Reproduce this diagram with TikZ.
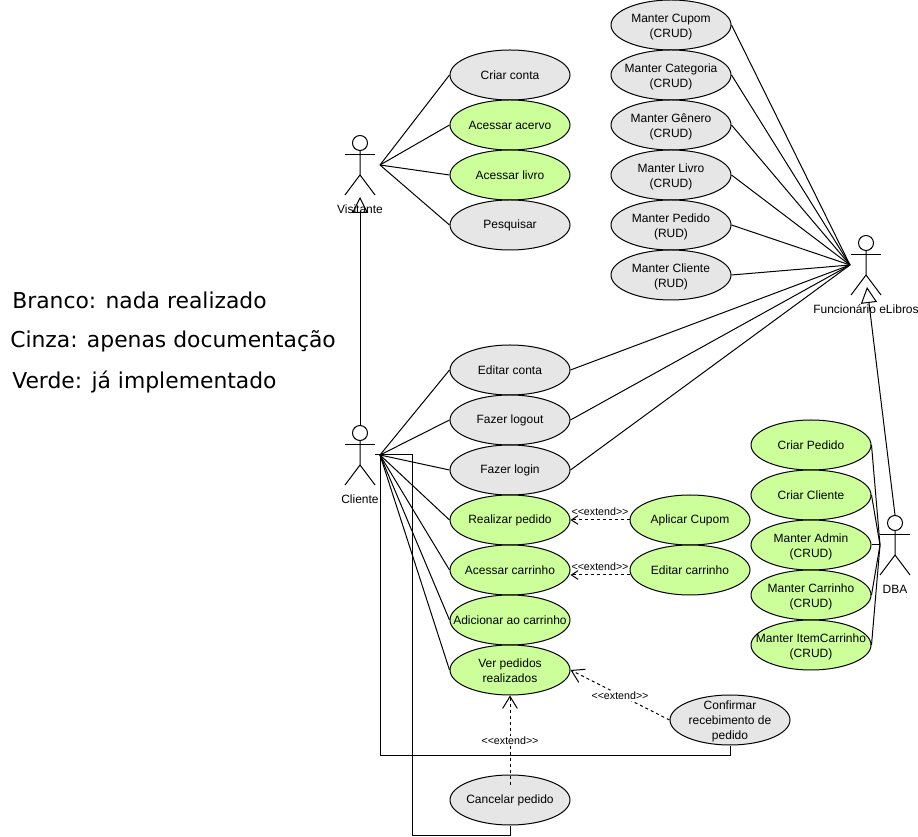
\documentclass[tikz,border=0pt]{standalone}
\usepackage{fontspec}
\setmainfont{Liberation Sans}
\newfontfamily\legendfont{DejaVu Sans}
\usetikzlibrary{shapes.geometric,arrows.meta}
\definecolor{ucgray}{HTML}{E6E6E6}
\definecolor{ucgreen}{HTML}{CCFF99}
\newcommand{\tl}{\rule{0pt}{9.5pt}}
\newcommand{\extxt}{{<}{<}extend{>}{>}}
\tikzset{
  ink/.style={draw=black,line width=0.75pt},
  usecase/.style={ellipse,ink,inner sep=-30pt,minimum width=90pt,minimum height=37.5pt,align=center,
    font=\fontsize{9}{11.25}\selectfont},
  grayuc/.style={usecase,fill=ucgray},
  greenuc/.style={usecase,fill=ucgreen},
  assoc/.style={ink},
  gener/.style={ink,-{Triangle[open,fill=white,length=12pt,width=12pt]}},
  extendbase/.style={ink,dash pattern=on 2.25pt off 2.25pt},
  extendline/.style={extendbase,-{Straight Barb[length=9pt,width=11pt,line width=0.75pt]}},
  extendsmall/.style={extendbase,-{Straight Barb[length=5pt,width=6.5pt,line width=0.75pt]}},
  extendlabel/.style={font=\fontsize{8}{9}\selectfont,inner sep=0.75pt},
  actorlabel/.style={font=\fontsize{9}{11.25}\selectfont,inner sep=0pt},
  legend/.style={font=\legendfont\fontsize{16.4}{20}\selectfont,anchor=base west,inner sep=0pt},
}
\newcommand{\stickman}[3]{% name, x(left), y(top)
  \node[circle,ink,fill=white,inner sep=0pt,minimum size=11.25pt] (#1head) at (#2+15,#3+8) {};
  \draw[ink] (#1head.south) -- (#2+15,#3+40) -- (#2,#3+60);
  \draw[ink] (#2+15,#3+40) -- (#2+30,#3+60);
  \draw[ink] (#2,#3+20) -- (#2+30,#3+20);
}
\begin{document}
\begin{tikzpicture}[x=0.75pt,y=-0.75pt]
\useasboundingbox[fill=white] (0,0) rectangle (918,837);

% actors
\stickman{vis}{345}{135}
\stickman{cli}{345}{425}
\stickman{fun}{851}{235}
\stickman{dba}{880}{515}
\coordinate (visP) at (380,165);
\coordinate (cliP) at (380,455);
\coordinate (cliQ) at (375,455);
\coordinate (funP) at (850,265);
\coordinate (dbaP) at (880,545);
\coordinate (funTip) at (867,287);
\coordinate (visTip) at (360,197);
\coordinate (cancelStart) at (510,785);

% use cases
\node[grayuc]  (criarconta) at (510,75)  {Criar conta};
\node[greenuc] (acervo)     at (510,125) {Acessar acervo};
\node[greenuc] (livro)      at (510,175) {Acessar livro};
\node[grayuc]  (pesquisar)  at (510,225) {Pesquisar};

\node[grayuc] (cupom)  at (671,25)  {\tl Manter Cupom\\(CRUD)};
\node[grayuc] (categ)  at (671,75)  {\tl Manter Categoria\\(CRUD)};
\node[grayuc] (genero) at (671,125) {\tl Manter Gênero\\(CRUD)};
\node[grayuc] (mlivro) at (671,175) {\tl Manter Livro\\(CRUD)};
\node[grayuc] (mped)   at (671,225) {\tl Manter Pedido\\(RUD)};
\node[grayuc] (mcli)   at (671,275) {\tl Manter Cliente\\(RUD)};

\node[grayuc]  (editar)   at (510,370) {Editar conta};
\node[grayuc]  (logout)   at (510,420) {Fazer logout};
\node[grayuc]  (login)    at (510,470) {Fazer login};
\node[greenuc] (realizar) at (510,520) {Realizar pedido};
\node[greenuc] (carrinho) at (510,570) {Acessar carrinho};
\node[greenuc] (adic)     at (510,620) {Adicionar ao carrinho};
\node[greenuc] (ver)      at (510,670) {\rule{0pt}{8pt}Ver pedidos\\realizados};
\node[greenuc] (aplicar)  at (690,520) {Aplicar Cupom};
\node[greenuc] (edcar)    at (690,570) {Editar carrinho};
\node[grayuc]  (confirmar) at (730,720) {\rule{0pt}{8pt}Confirmar\\recebimento de\\pedido};
\node[grayuc]  (cancelar)  at (510,800) {Cancelar pedido};

\node[greenuc] (cped)  at (811,445) {Criar Pedido};
\node[greenuc] (ccli)  at (811,495) {Criar Cliente};
\node[greenuc] (madm)  at (811,545) {\tl Manter Admin\\(CRUD)};
\node[greenuc] (mcar)  at (811,595) {\tl Manter Carrinho\\(CRUD)};
\node[greenuc] (mitem) at (811,645) {\tl Manter ItemCarrinho\\(CRUD)};

% associations
\foreach \t in {criarconta,acervo,livro,pesquisar}
  \draw[assoc] (visP) -- (\t.west);
\foreach \t in {editar,logout,login,realizar,carrinho,adic,ver}
  \draw[assoc] (cliP) -- (\t.west);
\foreach \t in {cupom,categ,genero,mlivro,mped,mcli,editar,logout,login}
  \draw[assoc] (\t.east) -- (funP);
\foreach \t in {cped,ccli,madm,mcar,mitem}
  \draw[assoc] (\t.east) -- (dbaP);
\draw[assoc] (cliP) -- (380,755) -- (confirmar.south |- 0,755) -- (confirmar.south);
\draw[assoc] (cliQ) -- (412,455) -- (412,835) -- (cancelar.south |- 0,835) -- (cancelar.south);

% generalisations
\draw[gener] (clihead.north) -- (visTip);
\draw[gener] (dbahead.north) -- (funTip);

% extends
\draw[extendsmall] (aplicar.west) -- (realizar.east);
\draw[extendsmall] ([yshift=-3.75pt]edcar.west) -- ([yshift=-3.75pt]carrinho.east);
\draw[extendline] (confirmar.west) -- (ver.east);
\draw[extendline] (cancelStart) -- (ver.south);
\node[extendlabel] (ext1) at (600,511.7) {\extxt};
\node[extendlabel] (ext2) at (600,566.7) {\extxt};
\node[extendlabel,fill=white] (ext3) at (620,695.7) {\extxt};
\node[extendlabel,fill=white] (ext4) at (510,740.7) {\extxt};

% actor labels
\node[actorlabel] (vislabel) at (360,209) {Visitante};
\node[actorlabel] (clilabel) at (360,499) {Cliente};
\node[actorlabel] (funlabel) at (866,309) {Funcionário eLibros};
\node[actorlabel] (dbalabel) at (895,589) {DBA};

% legend
\node[legend] (leg1) at (12,309) {Branco: nada realizado};
\node[legend] (leg2) at (10,348) {Cinza: apenas documentação};
\node[legend] (leg3) at (12,389) {Verde: já implementado};
\end{tikzpicture}
\end{document}
